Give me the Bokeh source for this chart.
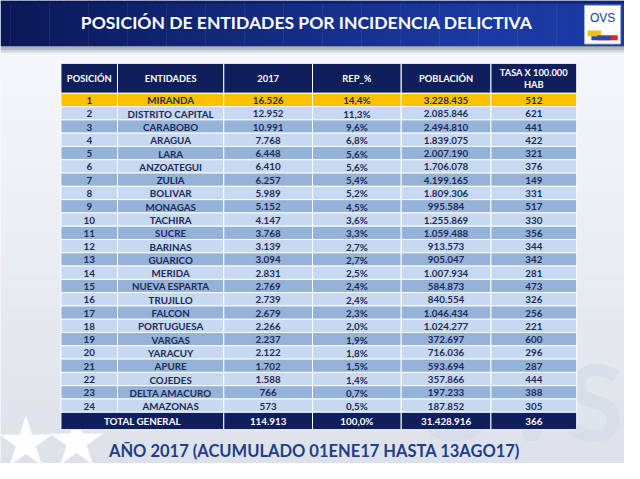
from bokeh.plotting import figure
from bokeh.models import ColumnDataSource, Range1d
from bokeh.core.properties import value
from bokeh.embed import file_html
from bokeh.resources import INLINE

# ---------------- data ----------------
title = "POSICIÓN DE ENTIDADES POR INCIDENCIA DELICTIVA"
footer = "AÑO 2017 (ACUMULADO 01ENE17 HASTA 13AGO17)"
headers = ["POSICIÓN", "ENTIDADES", "2017", "REP_%", "POBLACIÓN", "TASA X 100.000\nHAB"]

posicion = list(range(1, 25))
entidades = ["MIRANDA", "DISTRITO CAPITAL", "CARABOBO", "ARAGUA", "LARA", "ANZOATEGUI",
             "ZULIA", "BOLIVAR", "MONAGAS", "TACHIRA", "SUCRE", "BARINAS", "GUARICO",
             "MERIDA", "NUEVA ESPARTA", "TRUJILLO", "FALCON", "PORTUGUESA", "VARGAS",
             "YARACUY", "APURE", "COJEDES", "DELTA AMACURO", "AMAZONAS"]
casos_2017 = [16526, 12952, 10991, 7768, 6448, 6410, 6257, 5989, 5152, 4147, 3768, 3139,
              3094, 2831, 2769, 2739, 2679, 2266, 2237, 2122, 1702, 1588, 766, 573]
rep_pct = [14.4, 11.3, 9.6, 6.8, 5.6, 5.6, 5.4, 5.2, 4.5, 3.6, 3.3, 2.7,
           2.7, 2.5, 2.4, 2.4, 2.3, 2.0, 1.9, 1.8, 1.5, 1.4, 0.7, 0.5]
poblacion = [3228435, 2085846, 2494810, 1839075, 2007190, 1706078, 4199165, 1809306,
             995584, 1255869, 1059488, 913573, 905047, 1007934, 584873, 840554,
             1046434, 1024277, 372697, 716036, 593694, 357866, 197233, 187852]
tasa = [512, 621, 441, 422, 321, 376, 149, 331, 517, 330, 356, 344,
        342, 281, 473, 326, 256, 221, 600, 296, 287, 444, 388, 305]
total_label = "TOTAL GENERAL"
total_2017 = 114913
total_pct = 100.0
total_poblacion = 31428916
total_tasa = 366

# ---------------- helpers ----------------
def fmt_int(n):
    return f"{n:,}".replace(",", ".")

def fmt_pct(v):
    return f"{v:.1f}%".replace(".", ",")

def hex2rgb(h):
    h = h.lstrip("#")
    return tuple(int(h[i:i + 2], 16) for i in (0, 2, 4))

def mix(c1, c2, t):
    a, b = hex2rgb(c1), hex2rgb(c2)
    return "#%02x%02x%02x" % tuple(int(round(a[i] + (b[i] - a[i]) * t)) for i in range(3))

FONT = value("Lato")
NAVY = "#0f1f5c"
TEXT = "#1c2a58"
LIGHT = "#c6d9f0"
DARK = "#95b3d8"
GOLD = "#ffc000"

# layout (coordinates of the 640x479 slide)
col_edges = [62, 120, 229, 320, 411, 503, 591]
header_top, header_bot = 65, 96
row_h = (426 - 96) / 24
total_top, total_bot = 426, 444

p = figure(width=624, height=463, output_backend="svg", toolbar_location=None,
           x_range=Range1d(0, 640), y_range=Range1d(479, 0),
           min_border=0, outline_line_color=None, background_fill_color="#f1f3f7",
           border_fill_color="#f1f3f7")
p.axis.visible = False
p.grid.visible = False

# background vertical gradient
n = 40
bg_top, bg_bot, bg_col = [], [], []
for i in range(n):
    bg_top.append(48 + (479 - 48) * i / n)
    bg_bot.append(48 + (479 - 48) * (i + 1) / n + 0.5)
    bg_col.append(mix("#f6f7fa", "#dde2ea", i / (n - 1)))
p.quad(left=0, right=640, top=bg_top, bottom=bg_bot, fill_color=bg_col, line_color=None)

# stars and watermark
p.scatter(x=[26, 78], y=[458, 457], marker="star", size=56, fill_color="white",
          line_color=None, fill_alpha=0.95)
p.text(x=[639], y=[478], text=["OVS"], text_font=FONT, text_font_style="bold",
       text_font_size="105px", text_color="#cfd8e8", text_alpha=0.55,
       text_align="right", text_baseline="bottom")

# header bar gradient + shadow
m = 64
hl = [640 * i / m for i in range(m)]
hr = [640 * (i + 1) / m + 0.5 for i in range(m)]
hc = [mix("#0a1858", "#1a3aa2", min(1.0, (i / (m - 1)) * 1.3)) for i in range(m)]
for k in range(6):
    p.quad(left=0, right=640, top=47 + k * 1.5, bottom=48.5 + k * 1.5,
           fill_color=mix("#8a8f9c", "#f1f3f7", k / 5), line_color=None)
p.quad(left=hl, right=hr, top=0, bottom=47, fill_color=hc, line_color=None)
p.quad(left=0, right=640, top=0, bottom=3, fill_color="#0a1650", line_color=None, fill_alpha=0.6)

p.text(x=[314], y=[23], text=[title], text_font=FONT, text_font_style="bold",
       text_font_size="17.5px", text_color="white", text_align="center",
       text_baseline="middle")

# logo
p.quad(left=599, right=636, top=5, bottom=45, fill_color="white", line_color="#9fb0d8")
p.text(x=[617.5], y=[18], text=["OVS"], text_font=value("Liberation Sans"),
       text_font_size="12px", text_color="#1a3a9c", text_align="center",
       text_baseline="middle")
p.quad(left=602, right=616, top=31, bottom=37, fill_color="#f2c20e", line_color=None)
p.quad(left=612, right=633, top=36, bottom=41, fill_color="#d9232d", line_color=None)
p.quad(left=606, right=626, top=37, bottom=41, fill_color="#2a4aa8", line_color=None)

# ---------------- table ----------------
xc = [(col_edges[i] + col_edges[i + 1]) / 2 for i in range(6)]

# header row
p.quad(left=col_edges[:-1], right=col_edges[1:], top=header_top, bottom=header_bot,
       fill_color=NAVY, line_color="white", line_width=1)
for i, h in enumerate(headers):
    lines = h.split("\n")
    if len(lines) == 1:
        p.text(x=[xc[i]], y=[(header_top + header_bot) / 2], text=[h], text_font=FONT,
               text_font_style="bold", text_font_size="9.3px", text_color="white",
               text_align="center", text_baseline="middle")
    else:
        p.text(x=[xc[i], xc[i]], y=[74, 87], text=lines, text_font=FONT,
               text_font_style="bold", text_font_size="9.3px", text_color="white",
               text_align="center", text_baseline="middle")

# body cells
cl, cr, ct, cb, cf = [], [], [], [], []
tx, ty, tt = [], [], []
for r in range(24):
    top = header_bot + r * row_h
    bot = top + row_h
    if r == 0:
        fill = GOLD
    elif r % 2 == 1:
        fill = LIGHT
    else:
        fill = DARK
    vals = [str(posicion[r]), entidades[r], fmt_int(casos_2017[r]), fmt_pct(rep_pct[r]),
            fmt_int(poblacion[r]), str(tasa[r])]
    for c in range(6):
        cl.append(col_edges[c]); cr.append(col_edges[c + 1])
        ct.append(top); cb.append(bot); cf.append(fill)
        tx.append(xc[c]); ty.append((top + bot) / 2 + 0.5); tt.append(vals[c])

cells = ColumnDataSource(dict(left=cl, right=cr, top=ct, bottom=cb, fill=cf))
p.quad(left="left", right="right", top="top", bottom="bottom", fill_color="fill",
       line_color="white", line_width=1, source=cells)
labels = ColumnDataSource(dict(x=tx, y=ty, text=tt))
p.text(x="x", y="y", text="text", source=labels, text_font=FONT, text_font_style="bold",
       text_font_size="9.8px", text_color=TEXT, text_align="center", text_baseline="middle")

# total row
tl = [col_edges[0], col_edges[2], col_edges[3], col_edges[4], col_edges[5]]
tr = [col_edges[2], col_edges[3], col_edges[4], col_edges[5], col_edges[6]]
p.quad(left=tl, right=tr, top=total_top, bottom=total_bot, fill_color=NAVY,
       line_color="white", line_width=1)
tot_vals = [total_label, fmt_int(total_2017), fmt_pct(total_pct), fmt_int(total_poblacion),
            str(total_tasa)]
p.text(x=[(a + b) / 2 for a, b in zip(tl, tr)], y=[(total_top + total_bot) / 2 + 0.5] * 5,
       text=tot_vals, text_font=FONT, text_font_style="bold", text_font_size="9.8px",
       text_color="white", text_align="center", text_baseline="middle")

# footer
p.text(x=[322], y=[466], text=[footer], text_font=FONT, text_font_style="bold",
       text_font_size="16.5px", text_color="#1f3d8c", text_align="center",
       text_baseline="middle")

open("out.html", "w").write(file_html(p, INLINE))
